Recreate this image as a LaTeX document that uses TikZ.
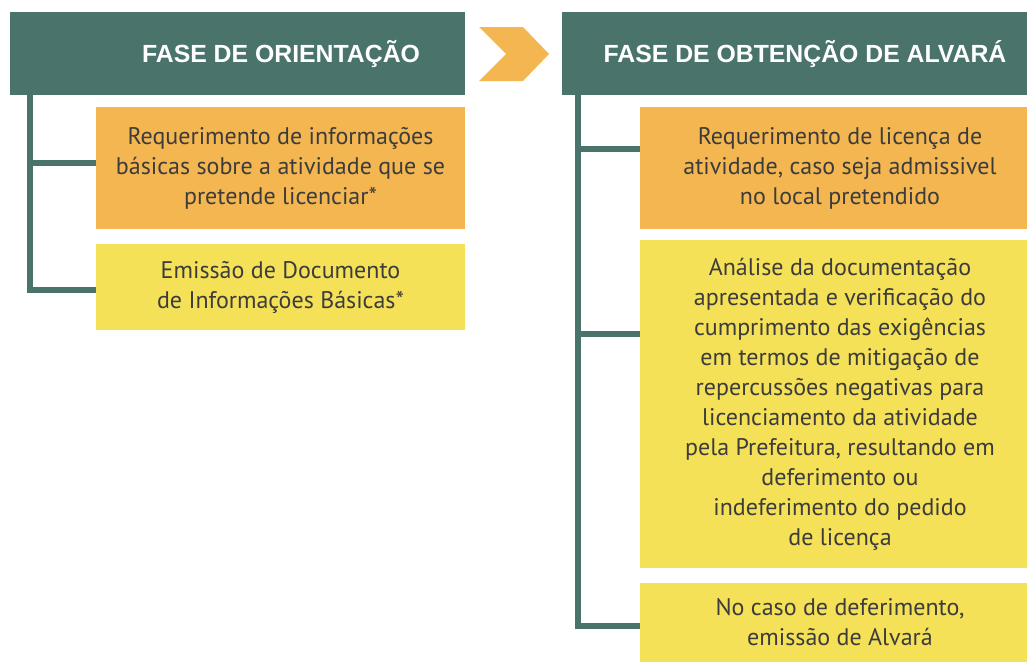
\documentclass[tikz,border=0pt]{standalone}
\usepackage{fontspec}
\setmainfont{PT Sans}
\newfontfamily\headfont{Liberation Sans}
\usetikzlibrary{positioning}

\definecolor{faseteal}{HTML}{4A746B}
\definecolor{laranja}{HTML}{F4B650}
\definecolor{amarelo}{HTML}{F4E157}
\definecolor{texto}{HTML}{3C3C3C}

\begin{document}
\begin{tikzpicture}[x=1pt,y=-1pt,
		faixa/.style={fill=faseteal, inner sep=0pt, minimum height=83pt},
		titulo/.style={text=white, inner sep=0pt, anchor=base, font=\headfont\bfseries\fontsize{24.8}{29}\selectfont},
		passo/.style={text=texto, inner sep=0pt, align=center, minimum width=#1, font=\fontsize{24}{30}\selectfont},
		ramo/.style={draw=faseteal, line width=6pt, line join=miter},
	]
				\useasboundingbox (0,0) rectangle (1027,662);
				%\draw[color=gray,step=10pt, help lines,opacity=0.3] (0,0) grid (1027,662); %help grids
				% headers
				\node[faixa, minimum width=455pt] (faseOri) at (237.5,53.5) {};
				\node[faixa, minimum width=465pt] (faseAlv) at (794.5,53.5) {};
				\node[titulo] (faseOriTxt) at (281,62) {FASE DE ORIENTAÇÃO};
				\node[titulo] (faseAlvTxt) at (805,62) {FASE DE OBTENÇÃO DE ALVARÁ};
				\fill[laranja] (479,27)--(523,27)--(549,54)--(523,81)--(479,81)--(506,54)--cycle;
				% fase de orientacao
				\node[passo=369pt, fill=laranja, minimum height=122pt] (reqInfo) at (280.5,168)
					{Requerimento de informações\\básicas sobre a atividade que se\\pretende licenciar*};
				\node[passo=369pt, fill=amarelo, minimum height=86pt] (emiDIB) at (280.5,287)
					{Emissão de Documento\\de Informações Básicas*};
				% fase de obtencao de alvara
				\node[passo=400pt, fill=laranja, minimum height=122pt] (reqLic) at (840,168)
					{Requerimento de licença de\\atividade, caso seja admissivel\\no local pretendido};
				\node[passo=400pt, fill=amarelo, minimum height=328pt] (analise) at (840,404)
					{Análise da documentação\\apresentada e verificação do\\cumprimento das exigências\\em termos de mitigação de\\repercussões negativas para\\licenciamento da atividade\\pela Prefeitura, resultando em\\deferimento ou\\indeferimento do pedido\\de licença};
				\node[passo=400pt, fill=amarelo, minimum height=79pt] (emiAlv) at (840,622.5)
					{No caso de deferimento,\\emissão de Alvará};
				% ramos
				\coordinate (troncoOri) at ([xshift=20pt]faseOri.south west);
				\coordinate (troncoAlv) at ([xshift=16pt]faseAlv.south west);
				\draw[ramo] (troncoOri) |- ([yshift=5pt]reqInfo.west);
				\draw[ramo] (troncoOri) |- ([yshift=-3pt]emiDIB.west);
				\draw[ramo] (troncoAlv) |- ([yshift=19pt]reqLic.west);
				\draw[ramo] (troncoAlv) |- ([yshift=70pt]analise.west);
				\draw[ramo] (troncoAlv) |- ([yshift=-3.5pt]emiAlv.west);
\end{tikzpicture}
\end{document}
